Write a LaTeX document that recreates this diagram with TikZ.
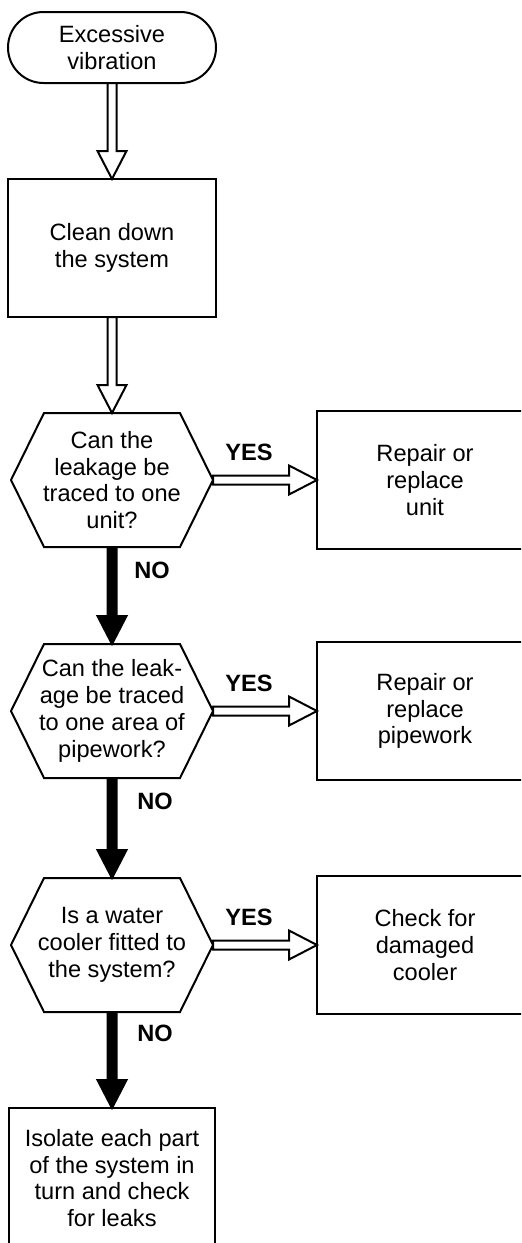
\documentclass[tikz,border=0pt]{standalone}
\usepackage{fontspec}
\setmainfont{Liberation Sans}
\usetikzlibrary{positioning,calc}

\begin{document}
\begin{tikzpicture}[
  node distance=48pt,
  every node/.style={font=\fontsize{11.8}{13.4}\selectfont, align=center, inner sep=0pt, outer sep=0pt},
  terminal/.style={draw, line width=1pt, rounded corners=17.75pt, minimum width=104pt, minimum height=35.5pt},
  block/.style={draw, line width=1pt, minimum width=104pt, minimum height=69pt},
  action/.style={draw, line width=1pt, minimum width=108pt, minimum height=69pt},
  decision/.style={minimum width=101pt, minimum height=67pt,
    append after command={\pgfextra{\draw[line width=1pt]
      (\tikzlastnode.west) -- ([xshift=16.5pt]\tikzlastnode.north west)
      -- ([xshift=-16.5pt]\tikzlastnode.north east) -- (\tikzlastnode.east)
      -- ([xshift=-16.5pt]\tikzlastnode.south east)
      -- ([xshift=16.5pt]\tikzlastnode.south west) -- cycle;}}},
  answer/.style={font=\fontsize{11.8}{13.4}\selectfont\bfseries},
  bigarrow/.style={draw, line width=1pt, to path={
    let \p1=(\tikztostart), \p2=(\tikztotarget),
        \n1={atan2(\y2-\y1,\x2-\x1)}, \n2={veclen(\x2-\x1,\y2-\y1)-14pt},
        \n3={\n1+90}, \n4={\n1-90} in
    ($(\p1)+(\n3:2.25pt)$) -- ($(\p1)+(\n1:\n2)+(\n3:2.25pt)$)
    -- ($(\p1)+(\n1:\n2)+(\n3:7.25pt)$) -- (\p2)
    -- ($(\p1)+(\n1:\n2)+(\n4:7.25pt)$) -- ($(\p1)+(\n1:\n2)+(\n4:2.25pt)$)
    -- ($(\p1)+(\n4:2.25pt)$) -- cycle}},
  hollowarrow/.style={bigarrow, fill=white},
  blackarrow/.style={bigarrow, fill=black}
]
\useasboundingbox (0,0) rectangle (260.5pt,-621.5pt);
\clip (0,0) rectangle (260.5pt,-621.5pt);

\node[terminal] (start) at (56pt,-23.75pt) {Excessive\\vibration};
\node[block, below=of start] (clean) {Clean down\\the system};
\node[decision, below=of clean] (q1) {Can the\\leakage be\\traced to one\\unit?};
\node[action, right=52pt of q1] (a1) {Repair or\\replace\\unit};
\node[decision, below=48.5pt of q1] (q2) {Can the leak-\\age be traced\\to one area of\\pipework?};
\node[action, right=52pt of q2] (a2) {Repair or\\replace\\pipework};
\node[decision, below=50pt of q2] (q3) {Is a water\\cooler fitted to\\the system?};
\node[action, right=52pt of q3] (a3) {Check for\\damaged\\cooler};
\node[block, minimum width=103pt, minimum height=70pt, below=of q3] (isolate) {Isolate each part\\of the system in\\turn and check\\for leaks};

\node[answer] (yes1) at ($(q1.east)+(18pt,14pt)$) {YES};
\node[answer] (yes2) at ($(q2.east)+(18pt,14pt)$) {YES};
\node[answer] (yes3) at ($(q3.east)+(18pt,14pt)$) {YES};
\node[answer] (no1) at ($(q1.south)+(20pt,-11.5pt)$) {NO};
\node[answer] (no2) at ($(q2.south)+(21.5pt,-11.5pt)$) {NO};
\node[answer] (no3) at ($(q3.south)+(21.5pt,-10.5pt)$) {NO};

\draw[hollowarrow] (start.south) to (clean.north);
\draw[hollowarrow] (clean.south) to (q1.north);
\draw[hollowarrow] (q1.east) to (a1.west);
\draw[hollowarrow] (q2.east) to (a2.west);
\draw[hollowarrow] (q3.east) to (a3.west);
\draw[blackarrow] (q1.south) to (q2.north);
\draw[blackarrow] (q2.south) to (q3.north);
\draw[blackarrow] (q3.south) to (isolate.north);
\end{tikzpicture}
\end{document}
